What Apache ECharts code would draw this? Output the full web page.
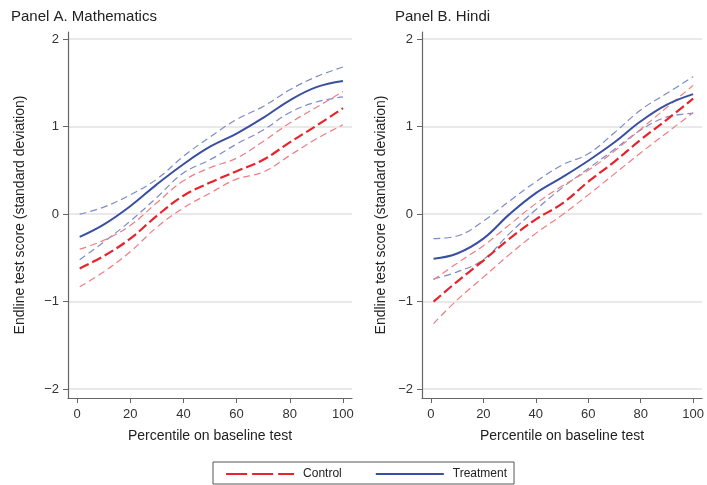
<!DOCTYPE html>
<html>
<head>
<meta charset="utf-8">
<script src="https://cdn.jsdelivr.net/npm/echarts@6/dist/echarts.min.js"></script>
<style>
  html, body { margin: 0; padding: 0; background: #fff; }
  #chart { width: 707px; height: 485px; }
</style>
</head>
<body>
<div id="chart"></div>
<script>
// percentiles on baseline test
const pctl = [1, 10, 20, 30, 40, 50, 60, 70, 80, 90, 100]
const xTicks = [0, 20, 40, 60, 80, 100]
const yTicks = [-2, -1, 0, 1, 2]

// Panel A. Mathematics
const mathTreat   = [-0.26, -0.12, 0.09, 0.34, 0.57, 0.77, 0.92, 1.10, 1.30, 1.45, 1.52]
const mathTreatHi = [0.00, 0.08, 0.22, 0.40, 0.66, 0.88, 1.08, 1.23, 1.42, 1.57, 1.68]
const mathTreatLo = [-0.52, -0.32, -0.08, 0.19, 0.47, 0.62, 0.80, 0.96, 1.16, 1.28, 1.34]
const mathCtrl    = [-0.62, -0.48, -0.28, -0.02, 0.21, 0.36, 0.49, 0.62, 0.82, 1.01, 1.21]
const mathCtrlHi  = [-0.40, -0.30, -0.13, 0.13, 0.38, 0.53, 0.64, 0.83, 1.04, 1.22, 1.40]
const mathCtrlLo  = [-0.83, -0.66, -0.43, -0.15, 0.07, 0.24, 0.40, 0.48, 0.67, 0.86, 1.02]

// Panel B. Hindi
const hindiTreat   = [-0.51, -0.45, -0.28, 0.00, 0.24, 0.42, 0.61, 0.82, 1.06, 1.25, 1.37]
const hindiTreatHi = [-0.28, -0.25, -0.08, 0.15, 0.37, 0.56, 0.69, 0.93, 1.19, 1.38, 1.57]
const hindiTreatLo = [-0.74, -0.66, -0.52, -0.22, 0.05, 0.30, 0.52, 0.74, 0.96, 1.11, 1.15]
const hindiCtrl    = [-1.00, -0.77, -0.53, -0.28, -0.06, 0.12, 0.37, 0.60, 0.85, 1.08, 1.32]
const hindiCtrlHi  = [-0.75, -0.56, -0.36, -0.12, 0.12, 0.32, 0.50, 0.72, 0.97, 1.22, 1.47]
const hindiCtrlLo  = [-1.25, -0.98, -0.72, -0.46, -0.22, -0.01, 0.22, 0.46, 0.70, 0.93, 1.16]

const red = '#e8232b'
const redLight = '#f07d82'
const blue = '#3a4fa2'
const blueLight = '#7d8bc9'
const font = 'Liberation Sans, Arial, Helvetica, sans-serif'

const pairs = ys => pctl.map((x, i) => [x, ys[i]])
const minus = v => String(v).replace('-', '\u2212')

const chart = echarts.init(document.getElementById('chart'))

function xAxisFor(gridIndex) {
  return {
    type: 'value', gridIndex, min: -3.4, max: 103.4,
    name: 'Percentile on baseline test', nameLocation: 'middle', nameGap: 31,
    nameTextStyle: { fontSize: 14, color: '#222', fontFamily: font },
    axisLine: { show: true, onZero: false, lineStyle: { color: '#666', width: 1.2 } },
    axisTick: { show: true, length: 5, customValues: xTicks, lineStyle: { color: '#666' } },
    axisLabel: { customValues: xTicks, fontSize: 13, color: '#333', margin: 10, fontFamily: font },
    splitLine: { show: false },
  }
}

function yAxisFor(gridIndex, gap) {
  return {
    type: 'value', gridIndex, min: -2.1, max: 2.08,
    name: 'Endline test score (standard deviation)', nameLocation: 'middle', nameGap: gap,
    nameTextStyle: { fontSize: 14, color: '#222', fontFamily: font },
    axisLine: { show: true, onZero: false, lineStyle: { color: '#666', width: 1.2 } },
    axisTick: { show: true, length: 5, customValues: yTicks, lineStyle: { color: '#666' } },
    axisLabel: { customValues: yTicks, fontSize: 13, color: '#333', margin: 9, fontFamily: font, formatter: minus },
    splitLine: { show: true, lineStyle: { color: '#e2e2e2', width: 1.5 } },
  }
}

function line(name, idx, ys, color, width, dash) {
  return {
    name, type: 'line', xAxisIndex: idx, yAxisIndex: idx,
    data: pairs(ys), smooth: 0.4, symbol: 'none', silent: true,
    lineStyle: { color, width, type: dash },
    itemStyle: { color },
  }
}

function panel(idx, treat, hi, lo, ctrl, chi, clo) {
  return [
    line('Treatment CI', idx, hi, blueLight, 1.2, [7, 4]),
    line('Treatment CI', idx, lo, blueLight, 1.2, [7, 4]),
    line('Control CI', idx, chi, redLight, 1.2, [7, 4]),
    line('Control CI', idx, clo, redLight, 1.2, [7, 4]),
    line('Control', idx, ctrl, red, 2.2, [10, 4]),
    line('Treatment', idx, treat, blue, 2),
  ]
}

chart.setOption({
  animation: false,
  title: [
    { text: 'Panel A. Mathematics', left: 6, top: 4, textStyle: { fontSize: 15, fontWeight: 'normal', color: '#222', fontFamily: font } },
    { text: 'Panel B. Hindi', left: 390, top: 4, textStyle: { fontSize: 15, fontWeight: 'normal', color: '#222', fontFamily: font } },
  ],
  grid: [
    { left: 68, right: 355, top: 32, bottom: 87 },
    { left: 422, right: 1, top: 32, bottom: 87 },
  ],
  xAxis: [xAxisFor(0), xAxisFor(1)],
  yAxis: [yAxisFor(0, 41), yAxisFor(1, 34)],
  legend: {
    left: 213, top: 462, orient: 'horizontal',
    padding: [6, 7, 4, 12], itemGap: 33, itemWidth: 68, itemHeight: 14,
    borderColor: '#555', borderWidth: 1,
    itemStyle: { opacity: 0 },
    textStyle: { fontSize: 12, color: '#222', fontFamily: font, padding: [0, 0, 0, 4] },
    data: [
      { name: 'Control', lineStyle: { type: [21, 5], width: 2.2 } },
      { name: 'Treatment', lineStyle: { width: 2 } },
    ],
  },
  series: [
    ...panel(0, mathTreat, mathTreatHi, mathTreatLo, mathCtrl, mathCtrlHi, mathCtrlLo),
    ...panel(1, hindiTreat, hindiTreatHi, hindiTreatLo, hindiCtrl, hindiCtrlHi, hindiCtrlLo),
  ],
})
</script>
</body>
</html>
